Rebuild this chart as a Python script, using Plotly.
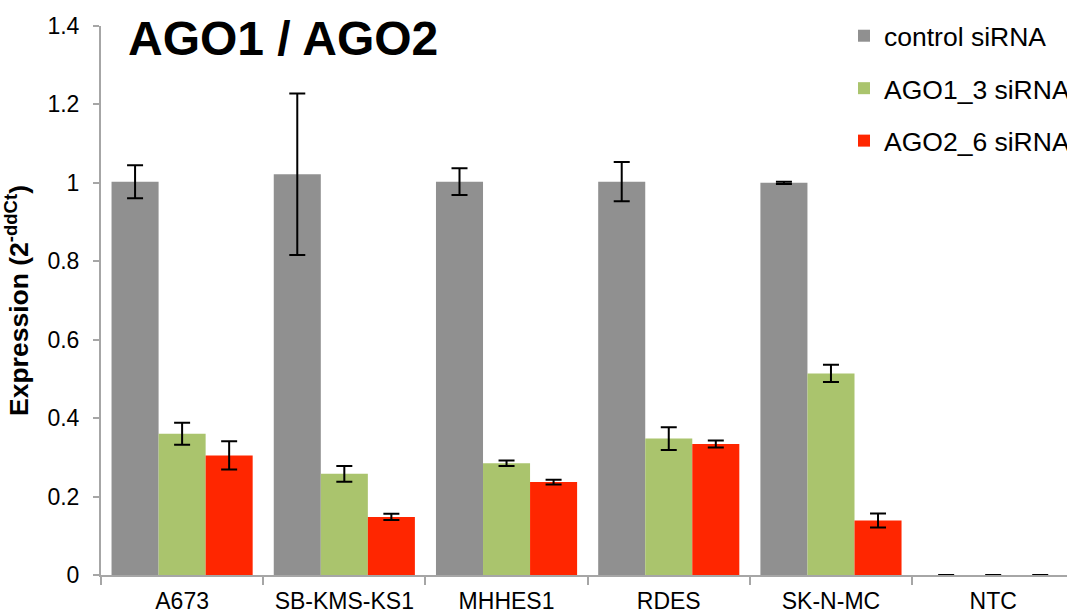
import plotly.graph_objects as go

categories = ["A673", "SB-KMS-KS1", "MHHES1", "RDES", "SK-N-MC", "NTC"]
series_names = ["control siRNA", "AGO1_3 siRNA", "AGO2_6 siRNA"]
control_vals = [1.003, 1.022, 1.003, 1.003, 1.000, 0.0]
control_err = [0.042, 0.206, 0.034, 0.050, 0.003, 0.0]
ago1_vals = [0.360, 0.258, 0.285, 0.348, 0.514, 0.0]
ago1_err = [0.028, 0.020, 0.007, 0.029, 0.022, 0.0]
ago2_vals = [0.305, 0.148, 0.237, 0.334, 0.139, 0.0]
ago2_err = [0.036, 0.008, 0.006, 0.009, 0.018, 0.0]
colors = ["#909090", "#aac46d", "#ff2600"]
y_ticks = [0, 0.2, 0.4, 0.6, 0.8, 1, 1.2, 1.4]

W, H = 1067, 614
L, R, T, B = 101, 0, 26, 39
pw = W - L - R
ph = H - T - B

fig = go.Figure()
for i, (name, vals, errs) in enumerate(zip(series_names,
                                            [control_vals, ago1_vals, ago2_vals],
                                            [control_err, ago1_err, ago2_err])):
    fig.add_trace(go.Bar(
        x=categories, y=vals, name=name,
        marker=dict(color=colors[i], line=dict(width=0)),
        error_y=dict(type="data", array=errs, visible=True,
                     color="black", thickness=2, width=8),
        legendgroup="g%d" % i,
    ))

fig.add_annotation(
    text="<b>AGO1 / AGO2</b>", xref="paper", yref="paper",
    x=(126 - L) / pw, y=(H - B - 38) / ph, xanchor="left", yanchor="middle",
    showarrow=False, font=dict(family="Liberation Sans, Arial", size=48, color="black"),
)

fig.update_layout(
    width=W, height=H,
    margin=dict(l=L, r=R, t=T, b=B, pad=0, autoexpand=False),
    paper_bgcolor="white", plot_bgcolor="white",
    barmode="group", bargap=0.13, bargroupgap=0,
    font=dict(family="Liberation Sans, Arial", color="black", size=23),
    showlegend=True,
    legend=dict(
        x=(844 - L) / pw, y=(H - B - 12) / ph, xanchor="left", yanchor="top",
        font=dict(size=26.5, color="black"), tracegroupgap=15,
        bgcolor="rgba(0,0,0,0)", itemclick=False,
    ),
    xaxis=dict(
        type="category", range=[-0.5, 5.455], tickson="boundaries",
        ticks="outside", ticklen=8, tickcolor="#a6a6a6", tickwidth=1.5,
        showline=True, linecolor="#a6a6a6", linewidth=2,
        showgrid=False, tickfont=dict(size=23), ticklabelstandoff=4,
        fixedrange=True, automargin=False,
    ),
    yaxis=dict(
        range=[0, 1.4], tickvals=y_ticks, ticktext=[("%g" % v) for v in y_ticks],
        ticks="outside", ticklen=6, tickcolor="#a6a6a6", tickwidth=1.5,
        showline=True, linecolor="#a6a6a6", linewidth=2,
        showgrid=False, zeroline=False, tickfont=dict(size=23),
        ticklabelstandoff=9, automargin=False,
        title=dict(text="<b>Expression (2<sup>-ddCt</sup>)</b>", font=dict(size=26.5), standoff=21),
        fixedrange=True,
    ),
)

fig.write_html("out.html", config={"displayModeBar": False})
